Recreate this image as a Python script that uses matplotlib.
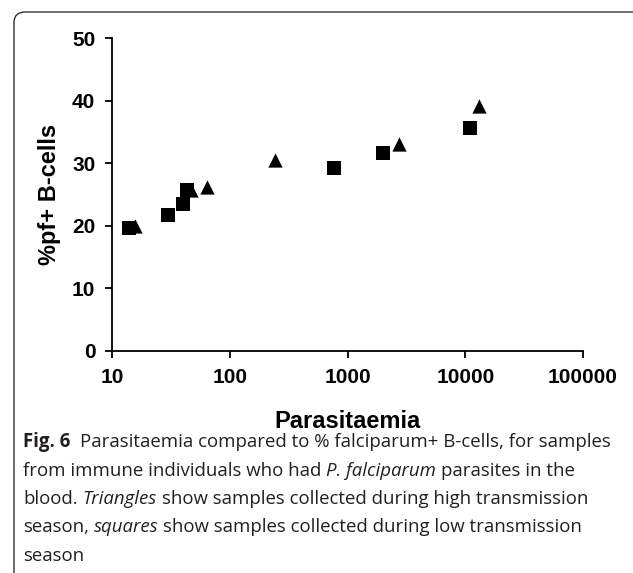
import matplotlib
matplotlib.use("Agg")
import matplotlib.pyplot as plt
from matplotlib.patches import FancyBboxPatch

# data
tri_x = [15.6, 47.3, 63.5, 240, 2760, 13100]
tri_y = [19.9, 25.7, 26.2, 30.5, 33.1, 39.2]
sq_x = [14.0, 29.9, 39.7, 43.0, 770, 1990, 11000]
sq_y = [19.7, 21.7, 23.5, 25.7, 29.3, 31.7, 35.6]

xticks = [10, 100, 1000, 10000, 100000]
yticks = [0, 10, 20, 30, 40, 50]

W, H = 633, 573
fig = plt.figure(figsize=(W / 100, H / 100), dpi=100)

# rounded frame around figure + caption (runs off the right/bottom edge)
frame = FancyBboxPatch((14 / W, -0.02), 1.1, 1 - 12 / H + 0.02,
                       boxstyle="round,pad=0,rounding_size=0.018",
                       transform=fig.transFigure, fc="none", ec="#333333",
                       lw=1.0, clip_on=False)
fig.patches.append(frame)

ax = fig.add_axes([112 / W, 1 - 351 / H, (583 - 112) / W, (351 - 38) / H])
ax.scatter(sq_x, sq_y, marker="s", s=100, c="black", lw=0, zorder=3)
ax.scatter(tri_x, tri_y, marker="^", s=105, c="black", lw=0, zorder=3)

ax.set_xscale("log")
ax.set_xlim(10, 100000)
ax.set_ylim(0, 50)
ax.set_xticks(xticks)
ax.set_xticklabels([str(v) for v in xticks])
ax.set_yticks(yticks)
ax.set_yticklabels([str(v) for v in yticks])
ax.xaxis.set_minor_locator(matplotlib.ticker.NullLocator())

for s in ["top", "right"]:
    ax.spines[s].set_visible(False)
for s in ["left", "bottom"]:
    ax.spines[s].set_linewidth(1.3)
ax.tick_params(direction="out", length=5, width=1.3, pad=7)
for lab in ax.get_xticklabels() + ax.get_yticklabels():
    lab.set_fontfamily("Liberation Sans")
    lab.set_fontweight("bold")
    lab.set_fontsize(15)

ax.set_xlabel("Parasitaemia", fontfamily="Liberation Sans", fontweight="bold",
              fontsize=17)
ax.set_ylabel("%pf+ B-cells", fontfamily="Liberation Sans", fontweight="bold",
              fontsize=17)
ax.xaxis.set_label_coords(0.5, -0.189)
ax.yaxis.set_label_coords(-0.108, 0.5)

# caption with mixed bold / italic runs
cap_lines = [
    [("Fig. 6", "bold", "normal"), ("  Parasitaemia compared to % falciparum+ B-cells, for samples", "normal", "normal")],
    [("from immune individuals who had ", "normal", "normal"), ("P. falciparum", "normal", "italic"), (" parasites in the", "normal", "normal")],
    [("blood. ", "normal", "normal"), ("Triangles", "normal", "italic"), (" show samples collected during high transmission", "normal", "normal")],
    [("season, ", "normal", "normal"), ("squares", "normal", "italic"), (" show samples collected during low transmission", "normal", "normal")],
    [("season", "normal", "normal")],
]
cap_font = "Open Sans"
cap_size = 13.4
line_y = [447, 475.5, 504, 532.5, 561]

renderer = fig.canvas.get_renderer()


def text_w(s, weight, style):
    t = fig.text(0, 0, s, fontfamily=cap_font, fontsize=cap_size,
                 fontweight=weight, fontstyle=style)
    w = t.get_window_extent(renderer).width
    t.remove()
    return w


for runs, yy in zip(cap_lines, line_y):
    x = 23.0
    for s, weight, style in runs:
        lead = len(s) - len(s.lstrip(" "))
        trail = len(s) - len(s.rstrip(" "))
        sp = text_w("a a", weight, style) - text_w("aa", weight, style)
        x += lead * sp
        body = s.strip(" ")
        fig.text(x / W, 1 - yy / H, body, fontfamily=cap_font, fontsize=cap_size,
                 fontweight=weight, fontstyle=style, ha="left", va="baseline",
                 color="#231f20")
        x += text_w(body, weight, style) + trail * sp

fig.savefig("out.png", dpi=100)
